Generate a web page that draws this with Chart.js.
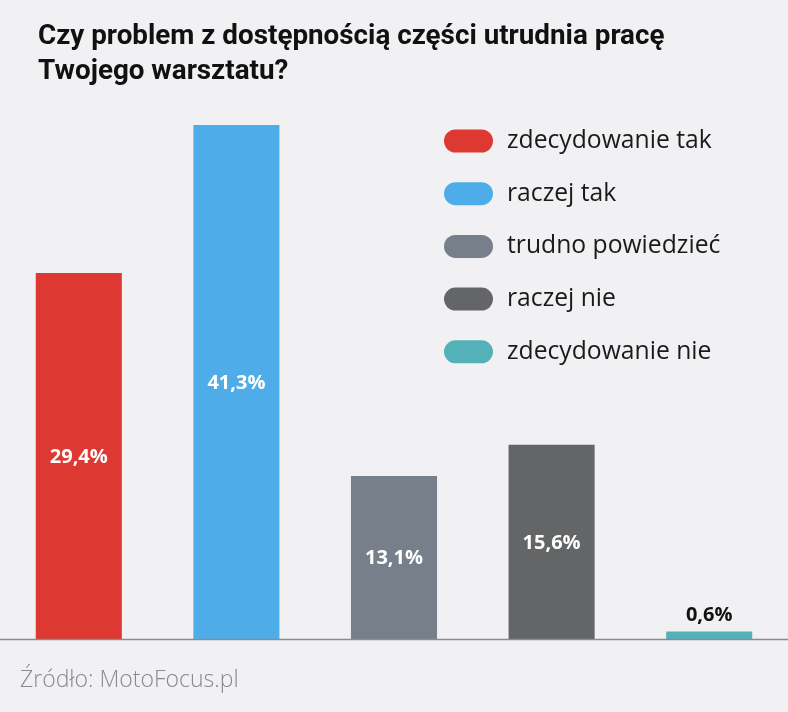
<!DOCTYPE html>
<html>
<head>
<meta charset="utf-8">
<script src="https://cdn.jsdelivr.net/npm/chart.js@4.4.1/dist/chart.umd.min.js"></script>
<style>
  html, body { margin: 0; padding: 0; background: #f1f1f3; }
  #wrap { width: 788px; height: 712px; position: relative; }
</style>
</head>
<body>
<div id="wrap"><canvas id="ankietaChart" width="788" height="712"></canvas></div>
<script>
const categories = ["zdecydowanie tak", "raczej tak", "trudno powiedzieć", "raczej nie", "zdecydowanie nie"];
const values = [29.4, 41.3, 13.1, 15.6, 0.6];
const valueLabels = ["29,4%", "41,3%", "13,1%", "15,6%", "0,6%"];
const colors = ["#dd3831", "#4eade8", "#767f8a", "#646566", "#55b1b8"];
const titleLines = ["Czy problem z dostępnością części utrudnia pracę", "Twojego warsztatu?"];
const sourceText = "Źródło: MotoFocus.pl";

const FONT = "'Open Sans', 'Noto Sans', sans-serif";
const TITLE_FONT = "Roboto, 'Open Sans', sans-serif";

const decorPlugin = {
  id: "decor",
  beforeDraw(chart) {
    const ctx = chart.ctx;
    ctx.save();
    ctx.fillStyle = "#f1f1f3";
    ctx.fillRect(0, 0, chart.width, chart.height);

    // title
    ctx.fillStyle = "#111";
    ctx.font = "bold 27.8px " + TITLE_FONT;
    ctx.textBaseline = "alphabetic";
    ctx.textAlign = "left";
    ctx.fillText(titleLines[0], 38, 44);
    ctx.fillText(titleLines[1], 38, 79);

    // legend
    ctx.font = "24.7px " + FONT;
    ctx.textBaseline = "middle";
    categories.forEach((c, i) => {
      const y = 141 + i * 52.7;
      ctx.fillStyle = colors[i];
      ctx.beginPath();
      ctx.roundRect(444, y - 11.5, 49, 23, 11.5);
      ctx.fill();
      ctx.fillStyle = "#1a1a1a";
      ctx.fillText(c, 507, y);
    });

    // source
    ctx.fillStyle = "#8a8a8e";
    ctx.font = "300 23px " + FONT;
    ctx.textBaseline = "alphabetic";
    ctx.fillText(sourceText, 20, 687);
    ctx.restore();
  },
  afterDatasetsDraw(chart) {
    const ctx = chart.ctx;
    const area = chart.chartArea;
    ctx.save();
    // baseline
    ctx.strokeStyle = "#8c8c8c";
    ctx.lineWidth = 1.5;
    ctx.beginPath();
    ctx.moveTo(0, area.bottom + 0.5);
    ctx.lineTo(chart.width, area.bottom + 0.5);
    ctx.stroke();

    // value labels
    const meta = chart.getDatasetMeta(0);
    ctx.font = "bold 20px " + FONT;
    ctx.textAlign = "center";
    ctx.textBaseline = "middle";
    meta.data.forEach((bar, i) => {
      const h = bar.base - bar.y;
      if (h > 40) {
        ctx.fillStyle = "#ffffff";
        ctx.fillText(valueLabels[i], bar.x, (bar.y + bar.base) / 2 + 1);
      } else {
        ctx.fillStyle = "#111";
        ctx.fillText(valueLabels[i], bar.x, bar.y - 16);
      }
    });
    ctx.restore();
  }
};

const ctx = document.getElementById("ankietaChart").getContext("2d");
new Chart(ctx, {
  type: "bar",
  data: {
    labels: categories,
    datasets: [{
      data: values,
      backgroundColor: colors,
      borderWidth: 0,
      categoryPercentage: 1,
      barPercentage: 0.546
    }]
  },
  options: {
    responsive: false,
    animation: false,
    layout: { padding: { top: 125, bottom: 73, left: 0, right: 0 } },
    plugins: {
      legend: { display: false },
      title: { display: false },
      tooltip: { enabled: false }
    },
    scales: {
      x: { display: false },
      y: { display: false, min: 0, max: 41.3 }
    }
  },
  plugins: [decorPlugin]
});
</script>
</body>
</html>
